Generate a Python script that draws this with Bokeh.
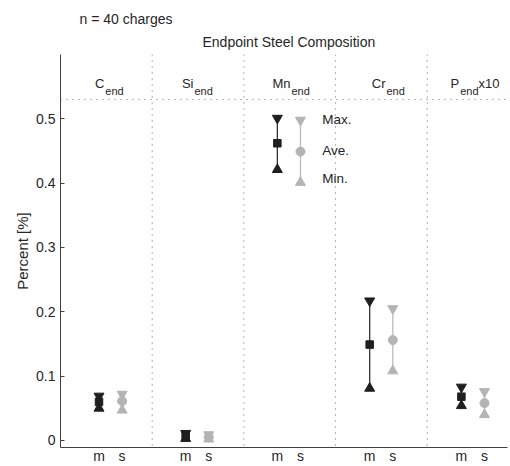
from bokeh.plotting import figure
from bokeh.models import Range1d, FixedTicker, Span, Title
from bokeh.embed import file_html
from bokeh.resources import INLINE
from bokeh.core.properties import value

# ---------------- data ----------------
elements = ["C", "Si", "Mn", "Cr", "P"]
subscripts = ["end", "end", "end", "end", "end"]
suffixes = ["", "", "", "", "x10"]

m_max = [0.069, 0.011, 0.501, 0.217, 0.083]
m_ave = [0.060, 0.007, 0.462, 0.149, 0.068]
m_min = [0.050, 0.003, 0.421, 0.081, 0.054]

s_max = [0.072, 0.009, 0.498, 0.205, 0.076]
s_ave = [0.061, 0.005, 0.449, 0.156, 0.058]
s_min = [0.047, 0.002, 0.401, 0.108, 0.040]

y_ticks = [0, 0.1, 0.2, 0.3, 0.4, 0.5]
y_tick_labels = ["0", "0.1", "0.2", "0.3", "0.4", "0.5"]
x_tick_labels = ["m", "s"]
legend_labels = ["Max.", "Ave.", "Min."]
title_text = "Endpoint Steel Composition"
note_text = "n = 40 charges"
y_label = "Percent [%]"

# ---------------- layout constants ----------------
FONT = "Liberation Sans"
TXT = "#262626"
BLACK = "#1f1f1f"
GRAY = "#b4b4b4"
FS = "14px"
m_pos = [0.42, 1.365, 2.365, 3.372, 4.372]
s_pos = [round(x + 0.252, 3) for x in m_pos]
head_anchor = [0.478, 1.450, 2.508, 3.544, 4.348]
header_y = 0.5553
header_sub_y = 0.544
divider_y = 0.53

p = figure(width=510, height=466, output_backend="svg", toolbar_location=None,
           x_range=Range1d(0, 4.875), y_range=Range1d(-0.011, 0.6),
           min_border_left=60, min_border_right=3, min_border_top=54, min_border_bottom=0)
p.outline_line_color = None
p.xgrid.visible = False
p.ygrid.visible = False
p.background_fill_color = "white"

# titles: top line is the note, the line nearer the frame is the main title
p.title.text = note_text
p.title.align = "left"
p.title.offset = 19
p.title.text_font = FONT
p.title.text_font_size = FS
p.title.text_font_style = "normal"
p.title.text_color = TXT
p.title.standoff = 1
p.add_layout(Title(text=title_text, align="left", offset=142, text_font=FONT,
                   text_font_size=FS, text_font_style="normal",
                   text_color=TXT, standoff=9), "above")

# y axis
ya = p.yaxis[0]
ya.ticker = FixedTicker(ticks=y_ticks)
ya.major_label_overrides = {t: l for t, l in zip(y_ticks, y_tick_labels)}
ya.major_tick_in = 4
ya.major_tick_out = 0
ya.minor_tick_line_color = None
ya.axis_line_color = "#404040"
ya.major_tick_line_color = "#404040"
ya.major_label_text_font = FONT
ya.major_label_text_font_size = FS
ya.major_label_text_color = TXT
ya.major_label_standoff = 5
ya.axis_label = y_label
ya.axis_label_text_font = FONT
ya.axis_label_text_font_size = "15px"
ya.axis_label_text_font_style = "normal"
ya.axis_label_text_color = TXT
ya.axis_label_standoff = 2

# x axis: m / s labels under each group
xticks = []
xover = {}
for mp, sp in zip(m_pos, s_pos):
    xticks += [mp, sp]
    xover[mp] = x_tick_labels[0]
    xover[sp] = x_tick_labels[1]
xa = p.xaxis[0]
xa.ticker = FixedTicker(ticks=xticks)
xa.major_label_overrides = xover
xa.major_tick_line_color = None
xa.major_tick_in = 0
xa.major_tick_out = 0
xa.minor_tick_line_color = None
xa.axis_line_color = "#404040"
xa.major_label_standoff = 0
xa.major_label_text_font = FONT
xa.major_label_text_font_size = FS
xa.major_label_text_color = TXT

# dotted separators
for k in range(1, len(elements)):
    p.add_layout(Span(location=k, dimension="height", line_color="#666666",
                      line_width=1, line_dash="1 5"))
p.add_layout(Span(location=divider_y, dimension="width", line_color="#666666",
                  line_width=1, line_dash="1 5"))

# range lines
p.segment(x0=m_pos, y0=m_min, x1=m_pos, y1=m_max, line_color="#333333", line_width=1.3)
p.segment(x0=s_pos, y0=s_min, x1=s_pos, y1=s_max, line_color="#bbbbbb", line_width=1.3)

# markers
p.scatter(m_pos, m_max, marker="inverted_triangle", size=10, color=BLACK)
p.scatter(m_pos, m_min, marker="triangle", size=10, color=BLACK)
p.scatter(m_pos, m_ave, marker="square", size=7.5, color=BLACK)
p.scatter(s_pos, s_max, marker="inverted_triangle", size=10, color=GRAY)
p.scatter(s_pos, s_min, marker="triangle", size=10, color=GRAY)
p.scatter(s_pos, s_ave, marker="circle", size=9, color=GRAY)

# header labels with subscripts
p.text(x=head_anchor, y=[header_y] * 5, text=elements, text_align="right",
       text_baseline="alphabetic", text_font=value(FONT), text_font_size="13px",
       text_color=TXT)
p.text(x=head_anchor, y=[header_sub_y] * 5, text=subscripts, text_align="left",
       text_baseline="alphabetic", text_font=value(FONT), text_font_size="11px",
       text_color=TXT, x_offset=1)
p.text(x=[head_anchor[4] + 0.21], y=[header_y], text=[suffixes[4]], text_align="left",
       text_baseline="alphabetic", text_font=value(FONT), text_font_size="13px",
       text_color=TXT)

# Max./Ave./Min. annotation
p.text(x=[2.854] * 3, y=[0.499, 0.450, 0.407], text=legend_labels, text_align="left",
       text_baseline="middle", text_font=value(FONT), text_font_size="13.5px",
       text_color=TXT)

open("out.html", "w").write(file_html(p, INLINE))
